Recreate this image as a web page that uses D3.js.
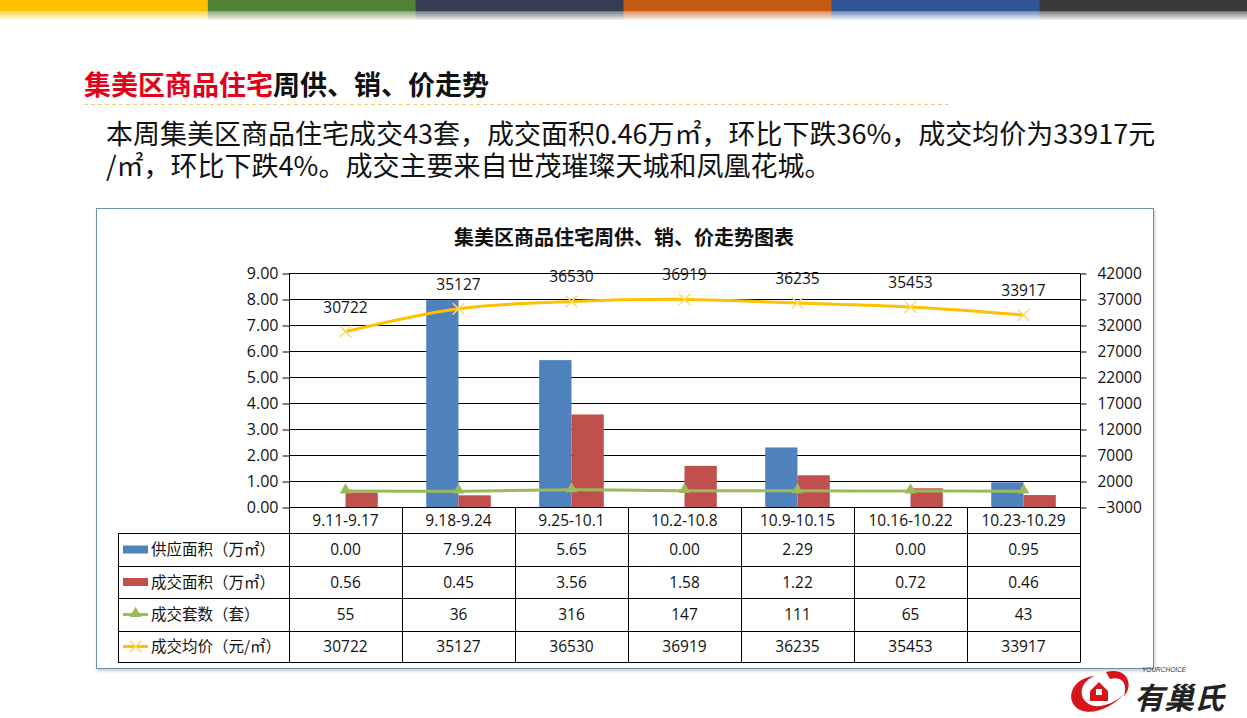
<!DOCTYPE html>
<html><head><meta charset="utf-8">
<script src="https://cdn.jsdelivr.net/npm/d3@7"></script>
<style>
html,body{margin:0;padding:0;background:#fff;}
svg{display:block;}
</style></head>
<body>
<svg id="c" width="1247" height="718"></svg>
<script>
// ---- data ----
const categories = ["9.11-9.17","9.18-9.24","9.25-10.1","10.2-10.8","10.9-10.15","10.16-10.22","10.23-10.29"];
const supplyArea = [0.00,7.96,5.65,0.00,2.29,0.00,0.95];
const dealArea = [0.56,0.45,3.56,1.58,1.22,0.72,0.46];
const dealUnits = [55,36,316,147,111,65,43];
const avgPrice = [30722,35127,36530,36919,36235,35453,33917];
const leftTicks = [0,1,2,3,4,5,6,7,8,9];
const rightTicks = [-3000,2000,7000,12000,17000,22000,27000,32000,37000,42000];
const seriesNames = ["供应面积（万㎡）","成交面积（万㎡）","成交套数（套）","成交均价（元/㎡）"];
const topBarColors = ["#FFC000","#548235","#333F50","#C55A11","#2F5597","#3A3A3A"];

const svg = d3.select("#c");
const W = 1247;
const CJK = "'Noto Sans CJK SC','Microsoft YaHei',sans-serif";
const NUM = "'Open Sans','Noto Sans CJK SC',sans-serif";

// ---- top colour bar ----
const defs = svg.append("defs");
const fade = defs.append("linearGradient").attr("id","fade").attr("x1",0).attr("x2",0).attr("y1",0).attr("y2",1);
fade.append("stop").attr("offset","0").attr("stop-color","#fff").attr("stop-opacity",0.3);
fade.append("stop").attr("offset","1").attr("stop-color","#fff").attr("stop-opacity",1);
const segW = W / topBarColors.length;
svg.selectAll("rect.topbar").data(topBarColors).join("rect")
  .attr("x",(d,i)=>i*segW).attr("y",0).attr("width",segW+0.5).attr("height",20).attr("fill",d=>d);
svg.append("rect").attr("x",0).attr("y",11).attr("width",W).attr("height",10).attr("fill","url(#fade)");

// ---- headline ----
const head = svg.append("text").attr("x",84).attr("y",95).attr("font-family",CJK).attr("font-size",27).attr("font-weight","bold");
head.append("tspan").attr("fill","#E3001B").text("集美区商品住宅");
head.append("tspan").attr("fill","#111").text("周供、销、价走势");
svg.append("line").attr("x1",84).attr("x2",948).attr("y1",104.5).attr("y2",104.5)
  .attr("stroke","#F0CF70").attr("stroke-dasharray","4,3").attr("stroke-width",1);

svg.append("text").attr("x",106).attr("y",144).attr("font-family",CJK).attr("font-size",27).attr("fill","#111")
  .text("本周集美区商品住宅成交43套，成交面积0.46万㎡，环比下跌36%，成交均价为33917元");
svg.append("text").attr("x",106).attr("y",176).attr("font-family",CJK).attr("font-size",27).attr("fill","#111")
  .text("/㎡，环比下跌4%。成交主要来自世茂璀璨天城和凤凰花城。");

// ---- chart frame ----
defs.append("filter").attr("id","sh").append("feDropShadow").attr("dx",1).attr("dy",2).attr("stdDeviation",1.5).attr("flood-color","#999").attr("flood-opacity",0.5);
svg.append("rect").attr("x",96.5).attr("y",208.5).attr("width",1057).attr("height",460)
  .attr("fill","#fff").attr("stroke","#7090B0").attr("stroke-width",1).attr("filter","url(#sh)");

svg.append("text").attr("x",624).attr("y",245).attr("text-anchor","middle").attr("font-family",CJK)
  .attr("font-size",20).attr("font-weight","bold").attr("fill","#111").text("集美区商品住宅周供、销、价走势图表");

// ---- scales ----
const x0 = 289, x1 = 1080, yTop = 273, yBot = 507;
const x = d3.scaleBand().domain(categories).range([x0,x1]);
const bw = x.bandwidth();
const gw = bw/1.75;
const xs = d3.scaleBand().domain(["s","d"]).range([(bw-gw)/2,(bw+gw)/2]);
const yL = d3.scaleLinear().domain([0,9]).range([yBot,yTop]);
const yR = d3.scaleLinear().domain([-3000,42000]).range([yBot,yTop]);

// gridlines
svg.append("g").selectAll("line").data(leftTicks).join("line")
  .attr("x1",x0).attr("x2",x1).attr("y1",d=>Math.round(yL(d))+0.5).attr("y2",d=>Math.round(yL(d))+0.5)
  .attr("stroke","#000").attr("stroke-width",1);

// left axis
const axL = d3.axisLeft(yL).tickValues(leftTicks).tickFormat(d3.format(".2f")).tickSize(7).tickPadding(4);
const gL = svg.append("g").attr("transform",`translate(${x0+0.5},0.5)`).call(axL);
gL.select(".domain").attr("stroke","#000").attr("d",`M0,${yTop}V${yBot}`);
gL.selectAll("line").attr("stroke","#000");
gL.selectAll("text").attr("font-family",NUM).attr("font-size",16).attr("fill","#111");

// right axis
const axR = d3.axisRight(yR).tickValues(rightTicks).tickFormat(d3.format("d")).tickSize(6).tickPadding(11);
const gR = svg.append("g").attr("transform",`translate(${x1+0.5},0.5)`).call(axR);
gR.select(".domain").attr("stroke","#000").attr("d",`M0,${yTop}V${yBot}`);
gR.selectAll("line").attr("stroke","#000");
gR.selectAll("text").attr("font-family",NUM).attr("font-size",15.5).attr("fill","#111");

// bars
const bars = svg.append("g");
bars.selectAll("rect.s").data(supplyArea).join("rect")
  .attr("x",(d,i)=>x(categories[i])+xs("s")).attr("width",xs.bandwidth())
  .attr("y",d=>yL(d)).attr("height",d=>yBot-yL(d)).attr("fill","#4F81BD");
bars.selectAll("rect.d").data(dealArea).join("rect")
  .attr("x",(d,i)=>x(categories[i])+xs("d")).attr("width",xs.bandwidth())
  .attr("y",d=>yL(d)).attr("height",d=>yBot-yL(d)).attr("fill","#C0504D");

const cx = i => x(categories[i]) + bw/2;
const curve = d3.curveCatmullRom.alpha(0);

// units line (secondary axis)
svg.append("path").datum(dealUnits)
  .attr("d",d3.line().x((d,i)=>cx(i)).y(d=>yR(d)).curve(curve))
  .attr("fill","none").attr("stroke","#9BBB59").attr("stroke-width",3);
const tri = d3.symbol().type(d3.symbolTriangle).size(60);
svg.append("g").selectAll("path").data(dealUnits).join("path")
  .attr("d",tri).attr("transform",(d,i)=>`translate(${cx(i)},${yR(d)-1})`).attr("fill","#9BBB59");

// price line
svg.append("path").datum(avgPrice)
  .attr("d",d3.line().x((d,i)=>cx(i)).y(d=>yR(d)).curve(curve))
  .attr("fill","none").attr("stroke","#FFC000").attr("stroke-width",3);
const cross = d3.symbol().type(d3.symbolX).size(90);
svg.append("g").selectAll("path").data(avgPrice).join("path")
  .attr("d",cross).attr("transform",(d,i)=>`translate(${cx(i)},${yR(d)})`)
  .attr("fill","none").attr("stroke","#FFD966").attr("stroke-width",1.5);
svg.append("g").selectAll("text").data(avgPrice).join("text")
  .attr("x",(d,i)=>cx(i)).attr("y",d=>yR(d)-19).attr("text-anchor","middle")
  .attr("font-family",NUM).attr("font-size",15.5).attr("fill","#111").text(d=>d);

// ---- data table ----
const tLeft = 118, rowY = [507,533,566,598,631,662];
const tbl = svg.append("g").attr("stroke","#000").attr("stroke-width",1);
rowY.forEach((y,k)=>{
  tbl.append("line").attr("x1",k===0?x0:tLeft).attr("x2",x1).attr("y1",y+0.5).attr("y2",y+0.5);
});
const colEdges = categories.map(c=>x(c)).concat([x1]);
colEdges.forEach(xx=>{
  tbl.append("line").attr("x1",Math.round(xx)+0.5).attr("x2",Math.round(xx)+0.5).attr("y1",yBot).attr("y2",rowY[5]+0.5);
});
tbl.append("line").attr("x1",tLeft+0.5).attr("x2",tLeft+0.5).attr("y1",rowY[1]).attr("y2",rowY[5]+0.5);

svg.append("g").selectAll("text").data(categories).join("text")
  .attr("x",(d)=>x(d)+bw/2).attr("y",(rowY[0]+rowY[1])/2+5.5).attr("text-anchor","middle")
  .attr("font-family",NUM).attr("font-size",15.5).attr("fill","#111").text(d=>d);

const rows = [supplyArea.map(d3.format(".2f")), dealArea.map(d3.format(".2f")), dealUnits.map(String), avgPrice.map(String)];
rows.forEach((vals,r)=>{
  const yc = (rowY[r+1]+rowY[r+2])/2;
  svg.append("g").selectAll("text").data(vals).join("text")
    .attr("x",(d,i)=>cx(i)).attr("y",yc+5.5).attr("text-anchor","middle")
    .attr("font-family",NUM).attr("font-size",15.5).attr("fill","#111").text(d=>d);
  svg.append("text").attr("x",151).attr("y",yc+5.5).attr("font-family",CJK).attr("font-size",15.5).attr("fill","#111").text(seriesNames[r]);
  if(r===0||r===1){
    svg.append("rect").attr("x",123).attr("y",yc-4).attr("width",25).attr("height",8).attr("fill",r===0?"#4F81BD":"#C0504D");
  } else {
    const col = r===2?"#9BBB59":"#FFC000";
    svg.append("line").attr("x1",123).attr("x2",148).attr("y1",yc).attr("y2",yc).attr("stroke",col).attr("stroke-width",3);
    if(r===2) svg.append("path").attr("d",tri).attr("transform",`translate(135.5,${yc-1})`).attr("fill",col);
    else svg.append("path").attr("d",cross).attr("transform",`translate(135.5,${yc})`).attr("fill","none").attr("stroke","#FFD966").attr("stroke-width",1.5);
  }
});

// ---- logo ----
const logo = svg.append("g");
logo.append("path").attr("d","M1095,676 C1070,678 1064,702 1080,710 C1094,716 1114,706 1124,694 C1112,706 1094,710 1086,702 C1077,693 1083,680 1095,676 Z").attr("fill","#D7141A");
logo.append("path").attr("d","M1106,672 C1128,666 1134,686 1124,696 C1128,684 1122,676 1110,679 Z").attr("fill","#D7141A");
logo.append("path").attr("d","M1090,691 L1099,682 L1108,691 L1108,701 L1090,701 Z").attr("fill","#D7141A");
logo.append("rect").attr("x",1096).attr("y",689).attr("width",6).attr("height",6).attr("fill","#fff");
logo.append("text").attr("x",1134).attr("y",709).attr("font-family",CJK).attr("font-weight","bold").attr("font-size",30).attr("fill","#222").attr("font-style","italic").text("有巢氏");
logo.append("text").attr("x",1142).attr("y",672).attr("font-family","'Liberation Sans',sans-serif").attr("font-size",6.5).attr("font-style","italic").attr("fill","#333").text("YOURCHOICE");
</script>
</body></html>
